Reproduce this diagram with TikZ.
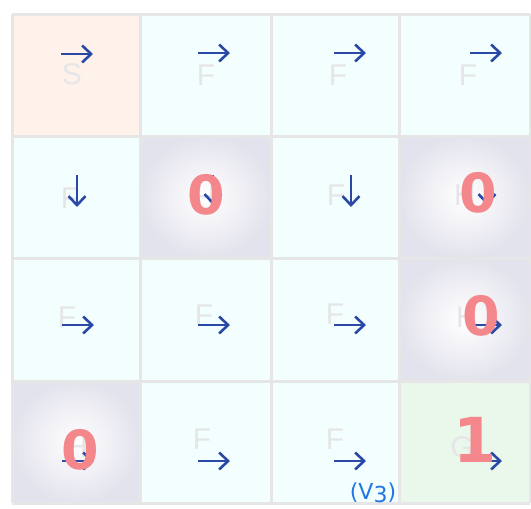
\documentclass[tikz,border=0pt]{standalone}
\usepackage{fontspec}
\setmainfont{Liberation Sans}
\newfontfamily\markfont{DejaVu Sans}
\usetikzlibrary{arrows.meta}
\definecolor{sfill}{HTML}{FEF2EA}
\definecolor{ffill}{HTML}{F3FFFE}
\definecolor{hfill}{HTML}{E3E3ED}
\definecolor{gfill}{HTML}{EAF8EB}
\definecolor{gridc}{HTML}{E6E6E6}
\definecolor{letterc}{HTML}{E6E6E8}
\definecolor{arrowc}{HTML}{2A48A6}
\definecolor{redc}{HTML}{F4878B}
\definecolor{bluec}{HTML}{2077E3}
\tikzset{
  gridline/.style={draw=gridc, line width=3},
  letter/.style={inner sep=0, text=letterc, font=\fontsize{30}{30}\selectfont},
  parrow/.style={draw=arrowc, line width=2.6, -{Straight Barb[length=9, width=17]}},
  redmark/.style={inner sep=0, text=redc, font=\markfont\bfseries\fontsize{54}{54}\selectfont},
  bluetext/.style={inner sep=0, text=bluec, font=\markfont\fontsize{22}{22}\selectfont},
  holecell/.style={inner color=white, outer color=hfill}
}
\begin{document}
\begin{tikzpicture}[x=1pt,y=-1pt]
\useasboundingbox (0,0) rectangle (531,509);
\fill[white] (0,0) rectangle (531,509);
% cell backgrounds
\fill[ffill] (12,14) rectangle (530,503);
\fill[sfill] (12,14) rectangle (140,136);
\shade[holecell] (140,136) rectangle (271,258);
\shade[holecell] (399,136) rectangle (530,258);
\shade[holecell] (399,258) rectangle (530,381);
\shade[holecell] (12,381) rectangle (140,503);
\fill[gfill] (399,381) rectangle (530,503);
% grid
\foreach \x in {12,140,271,399,530} \draw[gridline] (\x,14) -- (\x,503);
\foreach \y in {14,136,258,381,503} \draw[gridline] (12,\y) -- (530,\y);
% letters
\node[letter] (l00) at (72,74) {S};
\node[letter] (l01) at (206,75) {F};
\node[letter] (l02) at (338,75) {F};
\node[letter] (l03) at (468,75) {F};
\node[letter] (l10) at (70,198) {F};
\node[letter] (l11) at (205,197) {H};
\node[letter] (l12) at (336,195) {F};
\node[letter] (l13) at (465,195) {H};
\node[letter] (l20) at (67,317) {F};
\node[letter] (l21) at (204,315) {F};
\node[letter] (l22) at (335,314) {F};
\node[letter] (l23) at (467,317) {H};
\node[letter] (l30) at (77,447) {H};
\node[letter] (l31) at (202,439) {F};
\node[letter] (l32) at (335,439) {F};
\node[letter] (l33) at (462,447) {G};
% policy arrows
\draw[parrow] (61,54) -- (93,54);
\draw[parrow] (198,53) -- (230,53);
\draw[parrow] (334,53) -- (366,53);
\draw[parrow] (470,53) -- (502,53);
\draw[parrow] (77,175) -- (77,207);
\draw[parrow] (213,175) -- (213,205);
\draw[parrow] (351,175) -- (351,207);
\draw[parrow] (487,175) -- (487,205);
\draw[parrow] (62,325) -- (94,325);
\draw[parrow] (198,325) -- (230,325);
\draw[parrow] (334,325) -- (366,325);
\draw[parrow] (470,325) -- (502,325);
\draw[parrow] (62,461) -- (94,461);
\draw[parrow] (198,461) -- (230,461);
\draw[parrow] (334,461) -- (366,461);
\draw[parrow] (470,461) -- (502,461);
% annotations
\node[redmark] (v11) at (206,195) {0};
\node[redmark] (v13) at (478,193) {0};
\node[redmark] (v23) at (481,316) {0};
\node[redmark] (v30) at (80,450) {0};
\node[redmark, font=\markfont\bfseries\fontsize{62}{62}\selectfont] (v33) at (475,440) {1};
\node[bluetext] (vlabel) at (373,493) {(V\raisebox{-3pt}{3})};
\end{tikzpicture}
\end{document}
